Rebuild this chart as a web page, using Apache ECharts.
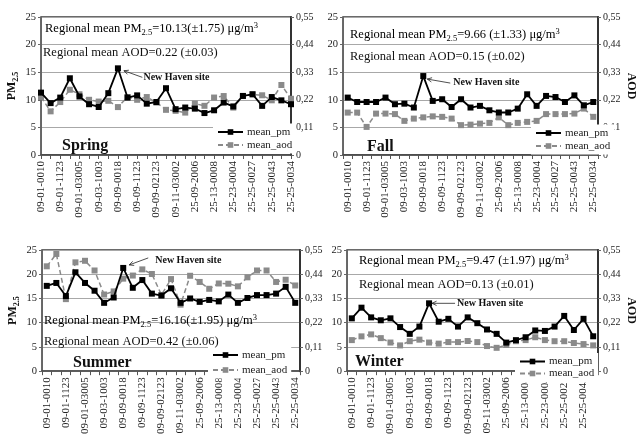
<!DOCTYPE html>
<html><head><meta charset="utf-8">
<script src="https://cdn.jsdelivr.net/npm/echarts@6/dist/echarts.min.js"></script>
<style>html,body{margin:0;padding:0;background:#fff}#c{width:638px;height:437px}</style>
</head><body><div id="c"></div>
<script>
// Site IDs (even positions are the labelled ones)
const sites = ['09-01-0010','09-01-0012','09-01-1123','09-01-2123','09-01-03005','09-03-0017','09-03-1003','09-05-0005','09-09-0018','09-09-0027','09-09-1123','09-09-0026','09-09-02123','09-11-0008','09-11-03002','25-03-0006','25-09-2006','25-13-0016','25-13-0008','25-15-4002','25-23-0004','25-25-0002','25-25-0027','25-25-0042','25-25-0043','25-27-0023','25-25-0034'];

const springPM  = [11.3, 9.4, 10.4, 13.9, 10.6, 9.2, 8.7, 11.2, 15.7, 10.4, 10.8, 9.3, 9.6, 12.1, 8.3, 8.6, 8.4, 7.6, 8.1, 9.5, 8.8, 10.7, 11.0, 8.9, 10.5, 9.9, 9.2];
const springAOD = [0.231, 0.174, 0.211, 0.260, 0.242, 0.220, 0.213, 0.216, 0.191, 0.231, 0.220, 0.231, 0.209, 0.180, 0.176, 0.169, 0.205, 0.196, 0.229, 0.235, 0.189, 0.235, 0.242, 0.238, 0.218, 0.279, 0.224];

const fallPM  = [10.4, 9.6, 9.6, 9.6, 10.4, 9.2, 9.3, 8.6, 14.3, 9.8, 10.1, 8.7, 10.1, 8.6, 8.9, 8.1, 7.7, 7.7, 8.4, 11.0, 8.9, 10.7, 10.5, 9.6, 10.8, 9.0, 9.6];
const fallAOD = [0.169, 0.169, 0.112, 0.165, 0.165, 0.163, 0.136, 0.145, 0.150, 0.154, 0.152, 0.145, 0.119, 0.121, 0.125, 0.128, 0.150, 0.119, 0.128, 0.132, 0.136, 0.163, 0.163, 0.163, 0.165, 0.185, 0.152];

const summerPM  = [17.6, 18.2, 15.5, 20.4, 18.2, 16.6, 14.1, 15.2, 21.3, 17.2, 18.8, 16.0, 15.6, 17.1, 14.1, 15.0, 14.3, 14.7, 14.4, 15.8, 14.1, 15.1, 15.7, 15.7, 16.0, 17.4, 14.1];
const summerAOD = [0.476, 0.532, 0.327, 0.494, 0.501, 0.457, 0.348, 0.362, 0.420, 0.434, 0.462, 0.441, 0.346, 0.418, 0.302, 0.433, 0.405, 0.374, 0.398, 0.397, 0.385, 0.426, 0.457, 0.457, 0.405, 0.415, 0.389];

const winterPM  = [10.9, 13.1, 11.1, 10.5, 10.9, 9.1, 7.7, 9.2, 14.0, 10.2, 10.8, 9.2, 11.1, 9.9, 8.6, 7.7, 5.9, 6.4, 7.0, 8.4, 8.3, 9.2, 11.4, 8.5, 10.8, 7.2];
const winterAOD = [0.141, 0.158, 0.167, 0.150, 0.130, 0.117, 0.136, 0.143, 0.130, 0.125, 0.132, 0.132, 0.137, 0.132, 0.114, 0.106, 0.119, 0.136, 0.141, 0.154, 0.141, 0.136, 0.136, 0.128, 0.123, 0.117];

const pmTicks = [0, 25, 5];
const aodTicks = [0, 0.55, 0.11];
const seasons = ['Spring', 'Fall', 'Summer', 'Winter'];
const pmText = ['=10.13(\u00b11.75) \u03bcg/m', '=9.66 (\u00b11.33) \u03bcg/m', '=16.16(\u00b11.95) \u03bcg/m', '=9.47 (\u00b11.97) \u03bcg/m'];
const aodText = ['Regional mean AOD=0.22 (\u00b10.03)', 'Regional mean AOD=0.15 (\u00b10.02)', 'Regional mean AOD=0.42 (\u00b10.06)', 'Regional mean AOD=0.13 (\u00b10.01)'];
const siteNote = 'New Haven site';

const F = 'Liberation Serif';
const panels = [
  {pm: springPM, aod: springAOD, grid: {left: 41, top: 17, width: 250, height: 138}, bg: false, leftName: true, rightName: false,
   legend: {left: 213, top: 123.5, itemGap: 2}, t1: [45, 29], t2: [43, 53], season: [62, 146],
   head: [6, 2.4], tail: [24.4, 9], note: [25.5, 9]},
  {pm: fallPM, aod: fallAOD, grid: {left: 343, top: 17, width: 262, height: 138}, bg: true, leftName: false, rightName: true,
   legend: {left: 531, top: 124.5, itemGap: 2}, t1: [350, 35], t2: [350, 57], season: [367, 147],
   head: [4, 3], tail: [27, 7], note: [30, 6.5]},
  {pm: summerPM, aod: summerAOD, grid: {left: 42, top: 250, width: 258, height: 131}, bg: true, leftName: true, rightName: false,
   legend: {left: 208, top: 346.5, itemGap: 4}, t1: [44, 321], t2: [44, 342], season: [73, 363],
   head: [6, -3], tail: [25, -10], note: [32, -8]},
  {pm: winterPM, aod: winterAOD, grid: {left: 347, top: 250, width: 256, height: 132}, bg: true, leftName: false, rightName: true,
   legend: {left: 515, top: 353, itemGap: 1}, t1: [359, 261], t2: [359, 285], season: [355, 362],
   head: [3, 0], tail: [26, 0], note: [28, 0.5]}
];

const chart = echarts.init(document.getElementById('c'));
const grids = [], xAxes = [], yAxes = [], series = [], legends = [];
const fmtAod = v => v === 0 ? '0' : v.toFixed(2).replace('.', ',');

panels.forEach((p, i) => {
  grids.push(Object.assign({show: true, borderColor: '#3a3a3a', borderWidth: 1.5, containLabel: false}, p.grid));
  xAxes.push({
    type: 'category', gridIndex: i, data: sites.slice(0, p.pm.length), boundaryGap: p.bg,
    axisLine: {lineStyle: {color: '#444', width: 1.5}},
    axisTick: {show: true, interval: 0, length: 4, lineStyle: {color: '#555'}},
    axisLabel: {interval: 1, rotate: 90, fontFamily: F, fontSize: 11, color: '#222', margin: 6}
  });
  yAxes.push({
    type: 'value', gridIndex: i, position: 'left', min: pmTicks[0], max: pmTicks[1], interval: pmTicks[2],
    name: p.leftName ? '{a|PM}{b|2.5}' : '', nameLocation: 'middle', nameGap: 22, nameRotate: 90,
    nameTextStyle: {rich: {
      a: {fontFamily: F, fontSize: 12, fontWeight: 'bold', color: '#111', lineHeight: 14},
      b: {fontFamily: F, fontSize: 8, fontWeight: 'bold', color: '#111', lineHeight: 8, padding: [7, 0, 0, 0], verticalAlign: 'top'}
    }},
    axisLine: {show: true, lineStyle: {color: '#666', width: 1}},
    axisTick: {show: true, length: 3, lineStyle: {color: '#666'}},
    axisLabel: {fontFamily: F, fontSize: 10.5, color: '#222', margin: 5},
    splitLine: {show: true, lineStyle: {color: '#a8a8a8', width: 1}}
  });
  yAxes.push({
    type: 'value', gridIndex: i, position: 'right', min: aodTicks[0], max: aodTicks[1], interval: aodTicks[2],
    name: p.rightName ? 'AOD' : '', nameLocation: 'middle', nameGap: 27, nameRotate: -90,
    nameTextStyle: {fontFamily: F, fontSize: 12, fontWeight: 'bold', color: '#111'},
    axisLine: {show: true, lineStyle: {color: '#333', width: 2}},
    axisTick: {show: true, length: 3, lineStyle: {color: '#666'}},
    axisLabel: {fontFamily: F, fontSize: 10, color: '#222', margin: 5, formatter: fmtAod},
    splitLine: {show: false}
  });
  series.push({
    type: 'line', name: 'mean_aod', xAxisIndex: i, yAxisIndex: 2 * i + 1, data: p.aod,
    symbol: 'rect', symbolSize: 6, itemStyle: {color: '#8a8a8a'},
    lineStyle: {color: '#8a8a8a', width: 1.5, type: [5, 3]}, z: 2, silent: true
  });
  series.push({
    type: 'line', name: 'mean_pm', xAxisIndex: i, yAxisIndex: 2 * i, data: p.pm,
    symbol: 'rect', symbolSize: 6, itemStyle: {color: '#000'},
    lineStyle: {color: '#000', width: 1.8}, z: 3, silent: true
  });
  legends.push({
    orient: 'vertical', left: p.legend.left, top: p.legend.top, data: ['mean_pm', 'mean_aod'],
    itemWidth: 25, itemHeight: 7, itemGap: p.legend.itemGap, backgroundColor: '#fff',
    padding: [3, 4, 3, 4], selectedMode: false,
    textStyle: {fontFamily: F, fontSize: 11, color: '#222', lineHeight: 11, padding: [0, 0, 0, -1]}
  });
});

chart.setOption({
  animation: false,
  backgroundColor: '#fff',
  grid: grids, xAxis: xAxes, yAxis: yAxes, series: series, legend: legends
});

const rich = {
  n: {fontFamily: F, fontSize: 12.5, lineHeight: 15, color: '#111'},
  s: {fontFamily: F, fontSize: 8.5, lineHeight: 8, padding: [7, 0, 0, 0], verticalAlign: 'top', color: '#111'},
  p: {fontFamily: F, fontSize: 8.5, lineHeight: 8, verticalAlign: 'top', color: '#111'}
};
const graphics = [{type: 'rect', shape: {x: 0, y: 219.5, width: 638, height: 26}, style: {fill: '#fff'}, z: 100}];
panels.forEach((p, i) => {
  graphics.push({type: 'text', x: p.t1[0], y: p.t1[1], z: 50,
    style: {text: '{n|Regional mean PM}{s|2.5}{n|' + pmText[i] + '}{p|3}', rich: rich, align: 'left', verticalAlign: 'middle'}});
  graphics.push({type: 'text', x: p.t2[0], y: p.t2[1], z: 50,
    style: {text: aodText[i], fontFamily: F, fontSize: 12.5, fill: '#111', align: 'left', verticalAlign: 'middle'}});
  graphics.push({type: 'text', x: p.season[0], y: p.season[1], z: 50,
    style: {text: seasons[i], fontFamily: F, fontSize: 16, fontWeight: 'bold', fill: '#111', align: 'left', verticalAlign: 'middle'}});
  // annotation pointing at the peak PM site
  let k = 0; p.pm.forEach((v, j) => { if (v > p.pm[k]) k = j; });
  const pt = chart.convertToPixel({seriesIndex: 2 * i + 1}, [k, p.pm[k]]);
  const hx = pt[0] + p.head[0], hy = pt[1] + p.head[1];
  const tx = pt[0] + p.tail[0], ty = pt[1] + p.tail[1];
  const ang = Math.atan2(ty - hy, tx - hx), L = 5, a = 0.45;
  graphics.push({type: 'line', z: 50, shape: {x1: tx, y1: ty, x2: hx, y2: hy}, style: {stroke: '#222', lineWidth: 0.8}});
  graphics.push({type: 'polyline', z: 50, shape: {points: [
    [hx + L * Math.cos(ang + a), hy + L * Math.sin(ang + a)], [hx, hy], [hx + L * Math.cos(ang - a), hy + L * Math.sin(ang - a)]]},
    style: {stroke: '#222', lineWidth: 0.8, fill: null}});
  graphics.push({type: 'text', x: pt[0] + p.note[0], y: pt[1] + p.note[1], z: 50,
    style: {text: siteNote, fontFamily: F, fontSize: 10, fontWeight: 'bold', fill: '#111', align: 'left', verticalAlign: 'middle'}});
});
chart.setOption({graphic: graphics});
</script>
</body></html>
